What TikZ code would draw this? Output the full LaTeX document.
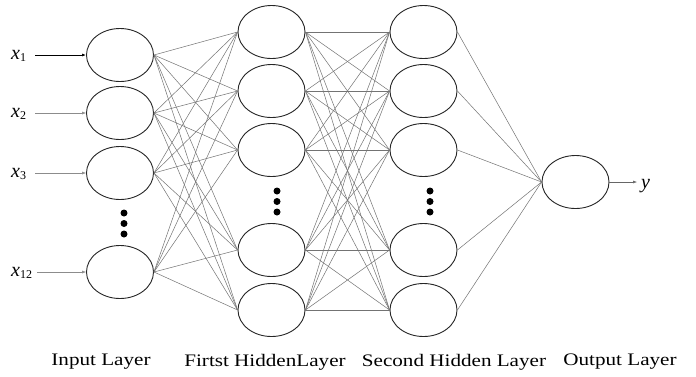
\documentclass[tikz,border=0pt]{standalone}
\usepackage{fontspec}
\setmainfont{Liberation Serif}
\usetikzlibrary{arrows.meta,shapes.geometric}
\newcommand{\widetxt}[1]{\scalebox{1.2}[1]{#1}}
\begin{document}
\begin{tikzpicture}[x=1pt,y=-1pt,
  neuron/.style={draw=black!85, line width=0.9pt, ellipse, minimum width=67pt, minimum height=53pt, inner sep=0pt},
  conn/.style={draw=black!55, line width=0.5pt},
  firstin/.style={draw=black, line width=0.9pt, -{Latex[length=4pt,width=3pt]}},
  otherin/.style={draw=black!45, line width=0.5pt, -{Latex[length=4pt,width=3pt]}},
  varlabel/.style={inner sep=0pt, anchor=base west, font=\fontsize{20}{22}\selectfont\itshape},
  layerlabel/.style={inner sep=0pt, font=\fontsize{17.6}{20}\selectfont},
  dotmark/.style={fill=black}
]
\useasboundingbox (0,0) rectangle (696,376);
\fill[white] (0,0) rectangle (696,376);

% input layer
\node[neuron] (i1) at (120,55) {};
\node[neuron] (i2) at (120,113) {};
\node[neuron] (i3) at (120,173) {};
\node[neuron] (i4) at (120,272) {};
% hidden layers
\foreach \n/\yy in {1/32,2/91,3/150,4/250,5/310}{
  \node[neuron] (h\n) at (271.5,\yy) {};
  \node[neuron] (g\n) at (423.5,\yy) {};
}
% output
\node[neuron] (o) at (575.5,182) {};

% connections
\foreach \a in {1,...,4}{\foreach \b in {1,...,5}{\draw[conn] (i\a.east) -- (h\b.west);}}
\foreach \a in {1,...,5}{\foreach \b in {1,...,5}{\draw[conn] (h\a.east) -- (g\b.west);}}
\foreach \a in {1,...,5}{\draw[conn] (g\a.east) -- (o.west);}

% dots
\foreach \xx/\yy in {124/213,124/223.5,124/234,277/191,277/201.5,277/212,430/191,430/201.5,430/212}{
  \fill[dotmark] (\xx,\yy) circle (3.5);
}

% input labels and arrows
\node[varlabel] (lx1) at (11,59) {x\raisebox{-2pt}{\upshape\fontsize{12}{12}\selectfont 1}};
\node[varlabel] (lx2) at (11,117) {x\raisebox{-2pt}{\upshape\fontsize{12}{12}\selectfont 2}};
\node[varlabel] (lx3) at (11,177) {x\raisebox{-2pt}{\upshape\fontsize{12}{12}\selectfont 3}};
\node[varlabel] (lx4) at (11,276) {x\raisebox{-2pt}{\upshape\fontsize{12}{12}\selectfont 12}};
\coordinate (s1) at (35,55);
\coordinate (s2) at (35,113);
\coordinate (s3) at (35,173);
\coordinate (s4) at (37,272);
\draw[firstin] (s1) -- (i1.west);
\draw[otherin] (s2) -- (i2.west);
\draw[otherin] (s3) -- (i3.west);
\draw[otherin] (s4) -- (i4.west);

% output arrow and label
\coordinate (e) at (637,182);
\draw[otherin, draw=black!60] (o.east) -- (e);
\node[varlabel] (ly) at (641,188) {y};

% layer labels
\node[layerlabel] (L1) at (101,362) {\widetxt{Input Layer}};
\node[layerlabel] (L2) at (265,362) {\widetxt{Firtst HiddenLayer}};
\node[layerlabel] (L3) at (454,362) {\widetxt{Second Hidden Layer}};
\node[layerlabel] (L4) at (620,362) {\widetxt{Output Layer}};
\end{tikzpicture}
\end{document}
